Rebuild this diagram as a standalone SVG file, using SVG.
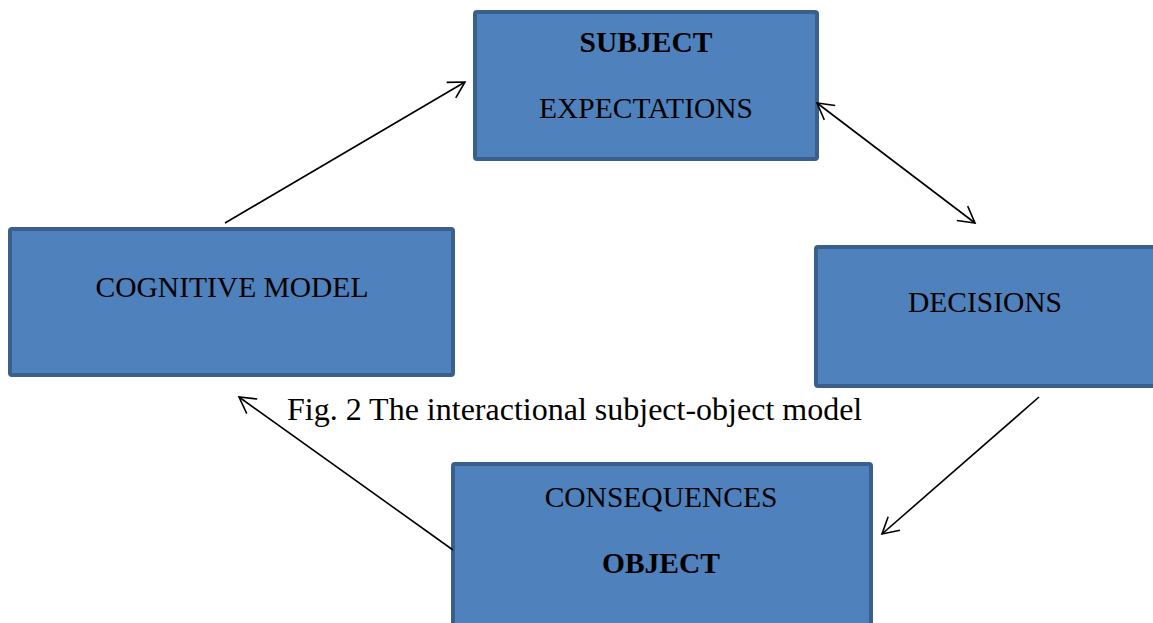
<svg xmlns="http://www.w3.org/2000/svg" width="1153" height="623" viewBox="0 0 1153 623">
<style>
.box{fill:#4F81BD;stroke:#3A5F8D;stroke-width:4}
.t{font-family:"Liberation Serif","Times New Roman",serif;font-size:29.5px;fill:#000;text-anchor:middle}
.b{font-weight:bold}
.cap{font-family:"Liberation Serif","Times New Roman",serif;font-size:32px;fill:#000}
.c{stroke:#000;stroke-width:1.6;fill:none}
</style>
<defs>
<marker id="ah" markerUnits="userSpaceOnUse" markerWidth="22" markerHeight="22" viewBox="0 0 22 22" refX="19" refY="11" orient="auto-start-reverse">
<path d="M3,2 L19,11 L3,20" fill="none" stroke="#000" stroke-width="1.6"/>
</marker>
</defs>
<rect width="1153" height="623" fill="#fff"/>
<g id="subject">
<rect class="box" x="475" y="12" width="342" height="147" rx="2"/>
<text class="t b" x="646" y="52">SUBJECT</text>
<text class="t" x="646" y="118">EXPECTATIONS</text>
</g>
<g id="cognitive">
<rect class="box" x="10" y="229" width="443" height="146" rx="2"/>
<text class="t" x="232" y="297">COGNITIVE MODEL</text>
</g>
<g id="decisions">
<rect class="box" x="816" y="247" width="342" height="139" rx="2"/>
<text class="t" x="985" y="312">DECISIONS</text>
</g>
<g id="object">
<rect class="box" x="453" y="464" width="418" height="180" rx="2"/>
<text class="t" x="661" y="507">CONSEQUENCES</text>
<text class="t b" x="661" y="573">OBJECT</text>
</g>
<g id="connectors">
<line class="c" x1="225" y1="223" x2="465" y2="82" marker-end="url(#ah)"/>
<line class="c" x1="817" y1="103" x2="975" y2="223" marker-start="url(#ah)" marker-end="url(#ah)"/>
<line class="c" x1="1039" y1="397" x2="882" y2="534" marker-end="url(#ah)"/>
<line class="c" x1="453" y1="550" x2="239" y2="397" marker-end="url(#ah)"/>
</g>
<text id="caption" class="cap" x="287" y="420">Fig. 2 The interactional subject-object model</text>
</svg>
